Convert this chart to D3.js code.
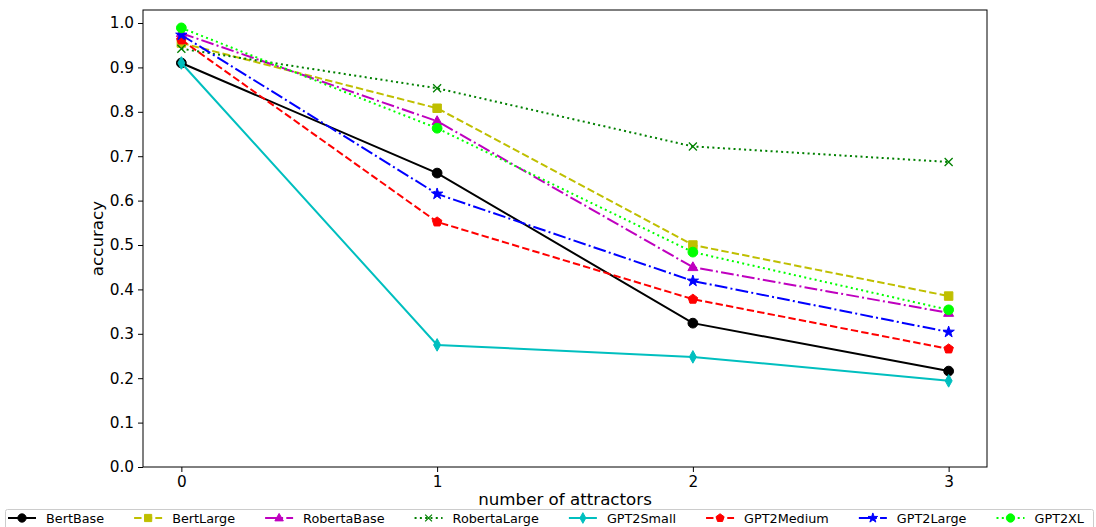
<!DOCTYPE html>
<html><head><meta charset="utf-8">
<script src="https://cdn.jsdelivr.net/npm/d3@7"></script>
<style>
html,body{margin:0;padding:0;background:#fff;}
svg{display:block;font-family:"DejaVu Sans",sans-serif;}
</style></head>
<body>
<svg id="chart" width="1096" height="527"></svg>
<script>
const attractors = [0, 1, 2, 3];
const yTicks = [0.0, 0.1, 0.2, 0.3, 0.4, 0.5, 0.6, 0.7, 0.8, 0.9, 1.0];
const seriesNames = ["BertBase","BertLarge","RobertaBase","RobertaLarge","GPT2Small","GPT2Medium","GPT2Large","GPT2XL"];
const bertBase     = [0.910, 0.662, 0.324, 0.216];
const bertLarge    = [0.955, 0.808, 0.500, 0.385];
const robertaBase  = [0.977, 0.779, 0.450, 0.347];
const robertaLarge = [0.942, 0.853, 0.722, 0.687];
const gpt2Small    = [0.910, 0.275, 0.248, 0.194];
const gpt2Medium   = [0.962, 0.552, 0.378, 0.266];
const gpt2Large    = [0.973, 0.615, 0.419, 0.304];
const gpt2XL       = [0.989, 0.763, 0.484, 0.354];
const seriesValues = [bertBase, bertLarge, robertaBase, robertaLarge, gpt2Small, gpt2Medium, gpt2Large, gpt2XL];

const lw = 2;
const styles = [
  {color:"#000000", dash:null, marker:"o"},
  {color:"#bfbf00", dash:"7.4,3.2", marker:"s"},
  {color:"#bf00bf", dash:"12.8,3.2,2,3.2", marker:"^"},
  {color:"#008000", dash:"2,3.3", marker:"x"},
  {color:"#00bfbf", dash:null, marker:"d"},
  {color:"#ff0000", dash:"7.4,3.2", marker:"p"},
  {color:"#0000ff", dash:"12.8,3.2,2,3.2", marker:"*"},
  {color:"#00ff00", dash:"2,3.3", marker:"o"}
];

const svg = d3.select("#chart");
const L = 143, R = 987, T = 10, B = 467;
const x = d3.scaleLinear().domain([-0.15, 3.15]).range([L, R]);
const y = d3.scaleLinear().domain([0, 1.0293]).range([B, T]);

function markerPath(type, s){
  s = s || 1;
  switch(type){
    case "o": return d3.symbol(d3.symbolCircle, 75*s*s)();
    case "s": return d3.symbol(d3.symbolSquare, 72*s*s)();
    case "^": return `M0,${-5.4*s}L${5*s},${3.4*s}L${-5*s},${3.4*s}Z`;
    case "x": return `M${-4*s},${-4*s}L${4*s},${4*s}M${-4*s},${4*s}L${4*s},${-4*s}`;
    case "d": return `M0,${-6.3*s}L${3.5*s},0L0,${6.3*s}L${-3.5*s},0Z`;
    case "p": {
      let pts=[]; for(let i=0;i<5;i++){const a=-Math.PI/2+i*2*Math.PI/5; pts.push([5*s*Math.cos(a),5*s*Math.sin(a)]);}
      return "M"+pts.map(p=>p.join(",")).join("L")+"Z";}
    case "*": return d3.symbol(d3.symbolStar, 40*s*s)();
  }
}

// axes
const yAxis = d3.axisLeft(y).tickValues(yTicks).tickFormat(d3.format(".1f")).tickSize(5).tickPadding(4);
const xAxis = d3.axisBottom(x).tickValues(attractors).tickFormat(d3.format("d")).tickSize(5).tickPadding(4);
const gy = svg.append("g").attr("transform",`translate(${L},0)`).call(yAxis);
const gx = svg.append("g").attr("transform",`translate(0,${B})`).call(xAxis);
[gx,gy].forEach(g=>{
  g.select(".domain").remove();
  g.selectAll("text").attr("font-size",15.3).attr("fill","#000").attr("font-family","DejaVu Sans");
  g.selectAll("line").attr("stroke","#000").attr("stroke-width",1);
});

// data
const lineGen = d3.line().x((d,i)=>x(attractors[i])).y(d=>y(d));
const plot = svg.append("g");
seriesValues.forEach((vals,si)=>{
  const st = styles[si];
  plot.append("path").datum(vals).attr("d",lineGen)
    .attr("fill","none").attr("stroke",st.color).attr("stroke-width",lw)
    .attr("stroke-dasharray",st.dash);
  plot.selectAll(null).data(vals).enter().append("path")
    .attr("transform",(d,i)=>`translate(${x(attractors[i])},${y(d)})`)
    .attr("d",markerPath(st.marker))
    .attr("fill",st.marker==="x"?"none":st.color)
    .attr("stroke",st.color).attr("stroke-width",st.marker==="x"?1.3:1);
});

// frame
svg.append("rect").attr("x",L).attr("y",T).attr("width",R-L).attr("height",B-T)
  .attr("fill","none").attr("stroke","#000").attr("stroke-width",1);

// axis labels
svg.append("text").attr("x",(L+R)/2).attr("y",505).attr("text-anchor","middle")
  .attr("font-size",16.7).attr("fill","#000").text("number of attractors");
svg.append("text").attr("transform",`translate(103,${(T+B)/2}) rotate(-90)`).attr("text-anchor","middle")
  .attr("font-size",16.7).attr("fill","#000").text("accuracy");

// legend (expand mode)
const lg = svg.append("g");
lg.append("rect").attr("x",5.5).attr("y",509.5).attr("width",1088).attr("height",20).attr("rx",2)
  .attr("fill","#fff").attr("stroke","#cccccc").attr("stroke-width",1);
const ly = 518;
const handleW = 28, textPad = 10;
const items = seriesNames.map((name,si)=>{
  const g = lg.append("g");
  const t = g.append("text").attr("y",ly+4.5).attr("font-size",12.8).attr("fill","#000").text(name);
  return {g, t, w: t.node().getComputedTextLength(), si};
});
const startX = 8, endX = 1084;
const content = d3.sum(items, d=>handleW+textPad+d.w);
const gap = (endX-startX-content)/(items.length-1);
let cx = startX;
items.forEach(it=>{
  const st = styles[it.si];
  it.g.append("line").attr("x1",cx).attr("x2",cx+handleW).attr("y1",ly).attr("y2",ly)
    .attr("stroke",st.color).attr("stroke-width",lw).attr("stroke-dasharray",st.dash);
  it.g.append("path").attr("transform",`translate(${cx+handleW/2},${ly})`).attr("d",markerPath(st.marker,0.85))
    .attr("fill",st.marker==="x"?"none":st.color).attr("stroke",st.color).attr("stroke-width",st.marker==="x"?1.2:1);
  it.t.attr("x",cx+handleW+textPad);
  cx += handleW + textPad + it.w + gap;
});
</script>
</body></html>
